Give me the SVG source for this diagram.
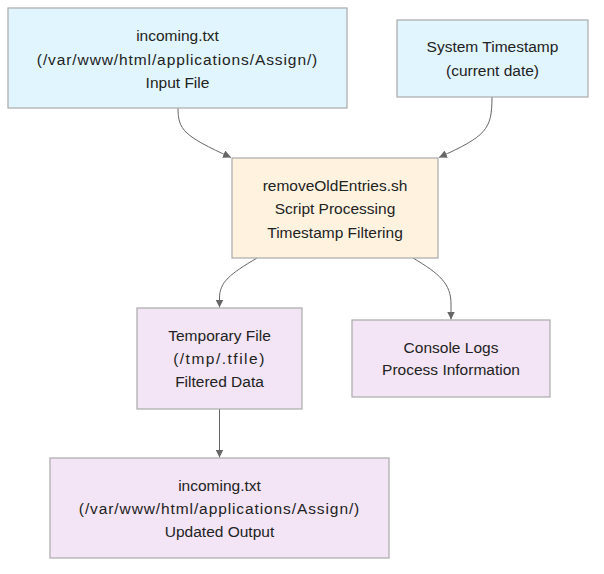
<svg xmlns="http://www.w3.org/2000/svg" width="604" height="574" viewBox="0 0 604 574">
<defs>
<marker id="arrow" viewBox="0 0 10 10" refX="10" refY="5" markerUnits="userSpaceOnUse" markerWidth="8" markerHeight="8" orient="auto">
<path d="M0,0 L10,5 L0,10 z" fill="#666666"/>
</marker>
<style>
.node rect{stroke:#aaaaaa;stroke-width:1.2}
.blue rect{fill:#e1f5fe}
.orange rect{fill:#fff3e0}
.purple rect{fill:#f3e5f5}
text{font-family:"Liberation Sans",Arial,sans-serif;font-size:15.5px;fill:#222222;text-anchor:middle;dominant-baseline:central}
text.path{letter-spacing:0.9px}
text.tmp{letter-spacing:1.5px}
.edge{fill:none;stroke:#666666;stroke-width:1;marker-end:url(#arrow)}
</style>
</defs>
<rect width="604" height="574" fill="#ffffff"/>
<g id="connectors">
<path class="edge" d="M178,108 C178,130 184,136 231,157.5"/>
<path class="edge" d="M492,97 C492,130 486,136 439,157.5"/>
<path class="edge" d="M257,258 C230,274 219.5,282 219.5,298 L219.5,307.5"/>
<path class="edge" d="M413,258 C440,274 451,284 451,304 L451,319.5"/>
<path class="edge" d="M219.5,409 L219.5,457.5"/>
</g>
<g id="input" class="node blue">
<rect x="8" y="8" width="339" height="100"/>
<text x="177.5" y="35">incoming.txt</text>
<text class="path" x="177.5" y="59">(/var/www/html/applications/Assign/)</text>
<text x="177.5" y="82">Input File</text>
</g>
<g id="timestamp" class="node blue">
<rect x="397" y="20" width="191" height="77"/>
<text x="492.5" y="46">System Timestamp</text>
<text x="492.5" y="70">(current date)</text>
</g>
<g id="script" class="node orange">
<rect x="232" y="158" width="206" height="100"/>
<text x="335" y="185">removeOldEntries.sh</text>
<text x="335" y="208">Script Processing</text>
<text x="335" y="232">Timestamp Filtering</text>
</g>
<g id="tempfile" class="node purple">
<rect x="137" y="308" width="165" height="101"/>
<text x="219.5" y="335">Temporary File</text>
<text class="tmp" x="219.5" y="358">(/tmp/.tfile)</text>
<text x="219.5" y="381">Filtered Data</text>
</g>
<g id="console" class="node purple">
<rect x="352" y="320" width="198" height="77"/>
<text x="451" y="347">Console Logs</text>
<text x="451" y="369">Process Information</text>
</g>
<g id="output" class="node purple">
<rect x="50" y="458" width="339" height="100"/>
<text x="219.5" y="485">incoming.txt</text>
<text class="path" x="219.5" y="508">(/var/www/html/applications/Assign/)</text>
<text x="219.5" y="531">Updated Output</text>
</g>
</svg>
